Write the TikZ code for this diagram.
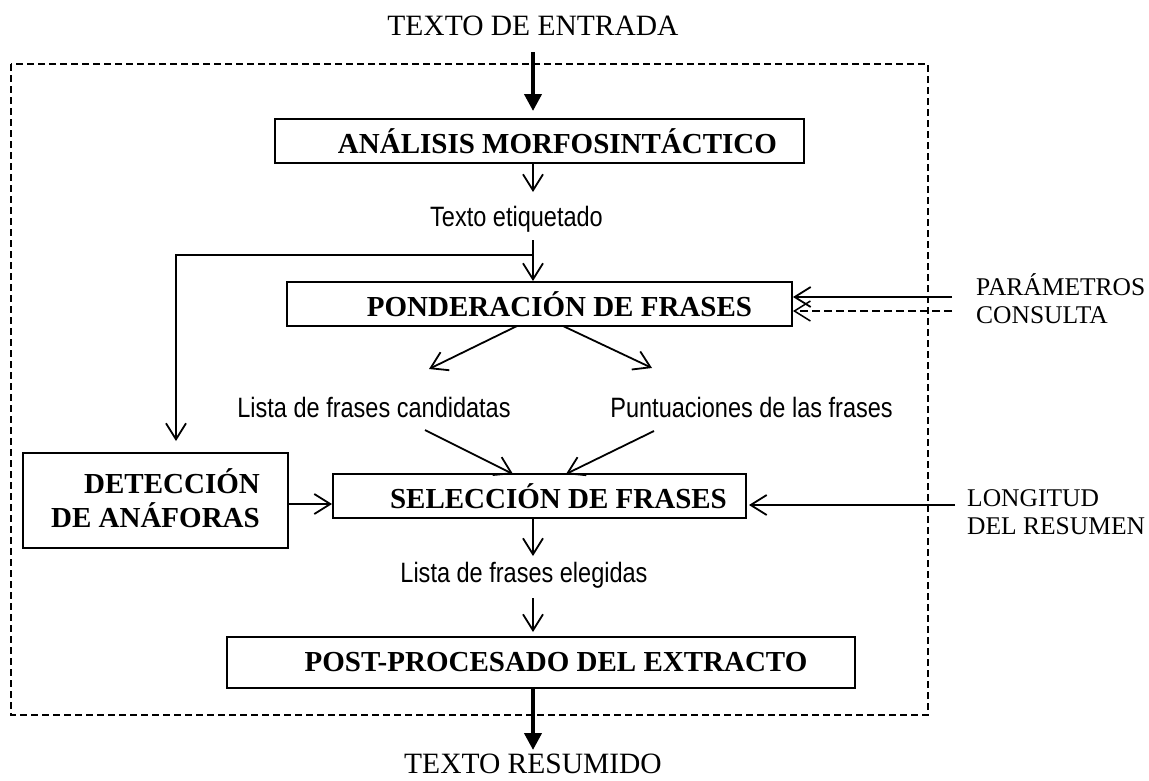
\documentclass[tikz,border=0pt]{standalone}
\usepackage{fontspec}
\setmainfont{Liberation Serif}
\newfontfamily\arialfam[FakeStretch=0.84]{Liberation Sans}
\usetikzlibrary{arrows.meta}
\begin{document}
\begin{tikzpicture}[x=1pt,y=-1pt,
  procbox/.style={draw, line width=2pt, inner sep=0pt, align=center,
    font=\bfseries\fontsize{29}{34}\selectfont},
  arr/.style={line width=1.8pt, -{Straight Barb[length=16pt,width=20pt]}},
  thickarr/.style={line width=4pt, -{Triangle[length=17pt,width=17pt]}},
  frame/.style={draw, line width=1.8pt, dash pattern=on 7pt off 4pt},
  dasharr/.style={line width=1.5pt, dash pattern=on 8pt off 4pt, -{Straight Barb[length=16pt,width=20pt]}},
  iolabel/.style={inner sep=0pt, font=\fontsize{29.5}{34}\selectfont},
  sidelabel/.style={inner sep=0pt, font=\fontsize{25.5}{28}\selectfont},
  datalabel/.style={inner sep=0pt, font=\arialfam\fontsize{28}{30}\selectfont},
]
\useasboundingbox (0,0) rectangle (1149,780);

% outer dashed frame
\draw[frame] (11,64) rectangle (928,715);

% text labels
\node[iolabel, anchor=base] (tin) at (533,35) {TEXTO DE ENTRADA};
\node[iolabel, anchor=base] (tres) at (533,773) {TEXTO RESUMIDO};
\node[datalabel, anchor=base] (etiq) at (516.5,226) {Texto etiquetado};
\node[datalabel, anchor=base] (cand) at (374,417) {Lista de frases candidatas};
\node[datalabel, anchor=base east] (punt) at (893,417) {Puntuaciones de las frases};
\node[datalabel, anchor=base] (eleg) at (524,582) {Lista de frases elegidas};
\node[sidelabel, anchor=base west] (param) at (976,295) {PARÁMETROS};
\node[sidelabel, anchor=base west] (cons) at (976,323) {CONSULTA};
\node[sidelabel, anchor=base west] (longi) at (967,506) {LONGITUD};
\node[sidelabel, anchor=base west] (delres) at (967,534) {DEL RESUMEN};

% process boxes
\node[procbox, minimum width=529pt, minimum height=44pt] (ana) at (539.5,141)
  {\hspace*{36pt}ANÁLISIS MORFOSINTÁCTICO};
\node[procbox, minimum width=505pt, minimum height=44pt] (pon) at (539.5,304)
  {\hspace*{40pt}PONDERACIÓN DE FRASES};
\node[procbox, minimum width=413pt, minimum height=44pt] (sel) at (539.5,496)
  {\hspace*{38pt}SELECCIÓN DE FRASES};
\node[procbox, minimum width=628pt, minimum height=51pt] (post) at (541,662.5)
  {\hspace*{30pt}POST-PROCESADO DEL EXTRACTO};
\node[procbox, minimum width=265pt, minimum height=95pt, align=right] (det) at (155.5,500.5)
  {\raisebox{4pt}{DETECCIÓN}\\\raisebox{4pt}{DE ANÁFORAS}};

% named free ends
\coordinate (inTop) at (533,52);
\coordinate (etiqTip) at (533,192);
\coordinate (etiqOut) at (533,240);
\coordinate (branch) at (533,255);
\coordinate (detCol) at (176,255);
\coordinate (paramStart) at (952,297);
\coordinate (consStart) at (952,311);
\coordinate (ponL) at (517,326);
\coordinate (ponLtip) at (429,369);
\coordinate (ponR) at (563,326);
\coordinate (ponRtip) at (652,368);
\coordinate (candOut) at (425,430);
\coordinate (selLtip) at (513,474);
\coordinate (puntOut) at (654,431);
\coordinate (selRtip) at (566,474);
\coordinate (detArrow) at (288,504);
\coordinate (longStart) at (955,505);
\coordinate (selOut) at (533,518);
\coordinate (elegTip) at (533,556);
\coordinate (elegOut) at (533,598);
\coordinate (postOut) at (533,688);
\coordinate (outTip) at (533,750);

% connectors
\draw[thickarr, shorten >=7pt] (inTop) -- (inTop |- ana.north);
\draw[arr] (ana.south -| inTop) -- (etiqTip);
\draw[arr] (etiqOut) -- (etiqOut |- pon.north);
\draw[arr, shorten >=11pt] (branch) -| (det.north -| detCol);
\draw[arr] (paramStart) -- (paramStart -| pon.east);
\draw[dasharr] (consStart) -- (consStart -| pon.east);
\draw[arr] (ponL) -- (ponLtip);
\draw[arr] (ponR) -- (ponRtip);
\draw[arr] (candOut) -- (selLtip);
\draw[arr] (puntOut) -- (selRtip);
\draw[arr] (detArrow) -- (detArrow -| sel.west);
\draw[arr, shorten >=2pt] (longStart) -- (longStart -| sel.east);
\draw[arr] (selOut) -- (elegTip);
\draw[arr, shorten >=4pt] (elegOut) -- (elegOut |- post.north);
\draw[thickarr] (postOut) -- (outTip);
\end{tikzpicture}
\end{document}
